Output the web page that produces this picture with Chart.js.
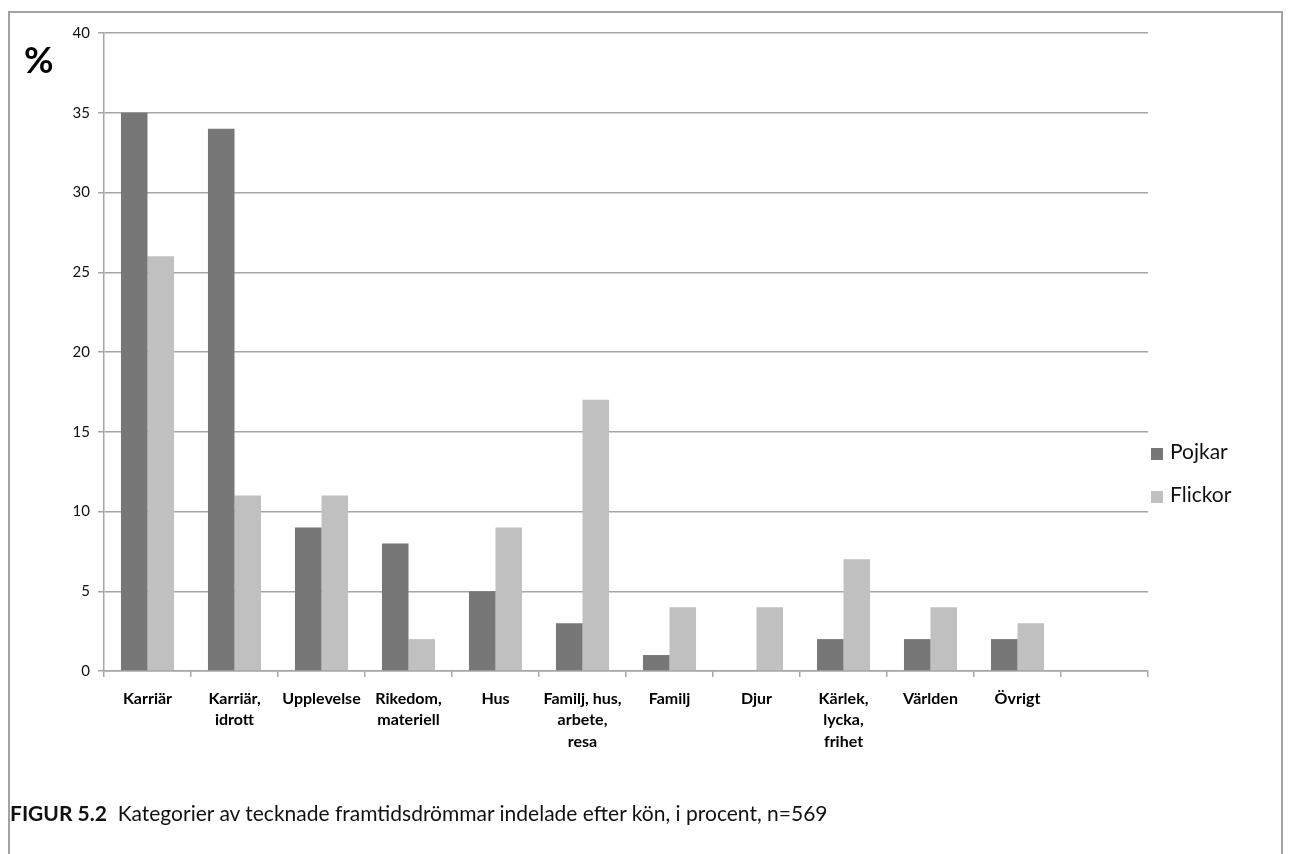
<!DOCTYPE html>
<html>
<head>
<meta charset="utf-8">
<script src="https://cdn.jsdelivr.net/npm/chart.js@4/dist/chart.umd.min.js"></script>
<style>
  body { margin: 0; background: #fff; overflow: hidden; }
  #wrap { position: relative; width: 1290px; height: 854px; font-family: Lato, "Open Sans", sans-serif; }
  #frame { position: absolute; left: 8px; top: 11px; width: 1275px; height: 900px; border: 2px solid #a3a3a3; box-sizing: border-box; }
  #chart-box { position: absolute; left: 0; top: 0; width: 1290px; height: 854px; }
  #pct { position: absolute; left: 24px; top: 37px; font-size: 36px; font-weight: bold; color: #000; }
  #legend { position: absolute; left: 1151px; top: 437px; font-size: 21px; color: #111; }
  #legend div { height: 43px; line-height: 28px; }
  #legend span.sw { display: inline-block; width: 12px; height: 12px; margin-right: 7px; vertical-align: -1px; }
  #caption { position: absolute; left: 10px; top: 800px; font-size: 21px; color: #111; white-space: nowrap; }
</style>
</head>
<body>
<div id="wrap">
  <div id="frame"></div>
  <div id="chart-box"><canvas id="chart"></canvas></div>
  <div id="pct">%</div>
  <div id="legend"></div>
  <div id="caption"><b>FIGUR 5.2</b>&nbsp; Kategorier av tecknade framtidsdrömmar indelade efter kön, i procent, n=569</div>
</div>
<script>
// Chart data
const categories = [
  "Karriär",
  ["Karriär,", "idrott"],
  "Upplevelse",
  ["Rikedom,", "materiell"],
  "Hus",
  ["Familj, hus,", "arbete,", "resa"],
  "Familj",
  "Djur",
  ["Kärlek,", "lycka,", "frihet"],
  "Världen",
  "Övrigt",
  ""
];
const seriesNames = ["Pojkar", "Flickor"];
const pojkar = [35, 34, 9, 8, 5, 3, 1, 0, 2, 2, 2, null];
const flickor = [26, 11, 11, 2, 9, 17, 4, 4, 7, 4, 3, null];
const seriesColors = ["#777777", "#c0c0c0"];

const gridColor = "#a6a6a6";

const ctx = document.getElementById("chart").getContext("2d");
new Chart(ctx, {
  type: "bar",
  data: {
    labels: categories,
    datasets: [
      { label: seriesNames[0], data: pojkar, backgroundColor: seriesColors[0] },
      { label: seriesNames[1], data: flickor, backgroundColor: seriesColors[1] }
    ]
  },
  options: {
    responsive: true,
    maintainAspectRatio: false,
    animation: false,
    categoryPercentage: 0.61,
    barPercentage: 1.0,
    layout: { padding: { top: 33, right: 142, left: 0, bottom: 0 } },
    plugins: {
      legend: { display: false },
      tooltip: { enabled: false }
    },
    scales: {
      x: {
        afterFit: function (scale) { scale.height = 183; },
        grid: {
          offset: true,
          drawOnChartArea: false,
          drawTicks: true,
          tickLength: 6,
          color: gridColor,
          lineWidth: 1.5
        },
        border: { color: gridColor, width: 1.5 },
        ticks: {
          color: "#000",
          padding: 11,
          maxRotation: 0,
          autoSkip: false,
          font: { family: "Lato", size: 16, weight: "bold", lineHeight: 1.34 }
        }
      },
      y: {
        min: 0,
        max: 40,
        afterFit: function (scale) { scale.width = 104; },
        grid: {
          color: gridColor,
          lineWidth: 1.5,
          tickLength: 6
        },
        border: { color: gridColor, width: 1.5 },
        ticks: {
          stepSize: 5,
          color: "#111",
          padding: 8,
          font: { family: "Lato", size: 15 }
        }
      }
    }
  }
});

// Legend
const legend = document.getElementById("legend");
seriesNames.forEach((name, i) => {
  const row = document.createElement("div");
  row.innerHTML = '<span class="sw" style="background:' + seriesColors[i] + '"></span>' + name;
  legend.appendChild(row);
});
</script>
</body>
</html>
